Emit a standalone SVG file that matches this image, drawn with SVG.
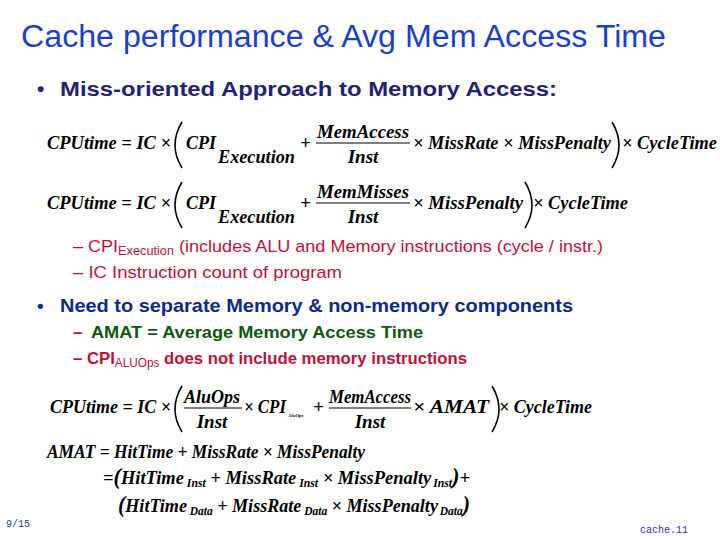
<svg xmlns="http://www.w3.org/2000/svg" width="720" height="540" viewBox="0 0 720 540">
<style>
.t{font-family:"Liberation Sans",Arial,sans-serif}
.m{font-family:"Liberation Serif","Times New Roman",serif;font-weight:bold;font-style:italic;fill:#000}
.p{fill:none;stroke:#000;stroke-width:1.6}
.r{fill:#c0103a}
.f{font-family:"Liberation Mono",monospace;font-size:10px;fill:#1a3a9c}
</style>
<rect width="720" height="540" fill="#fff"/>
<text class="t" x="21" y="47" font-size="31" fill="#1a3fcc" textLength="645" lengthAdjust="spacingAndGlyphs">Cache performance &amp; Avg Mem Access Time</text>
<text class="t" x="37" y="96" font-size="21" font-weight="bold" fill="#1f2277">•</text>
<text class="t" x="60" y="96" font-size="21" font-weight="bold" fill="#1f2277" textLength="497" lengthAdjust="spacingAndGlyphs">Miss-oriented Approach to Memory Access:</text>

<g id="eq1" font-size="19">
<text class="m" x="47" y="149" textLength="124" lengthAdjust="spacingAndGlyphs">CPUtime = IC ×</text>
<path class="p" d="M182,122 Q168,145 182,168"/>
<text class="m" x="186" y="149" textLength="30" lengthAdjust="spacingAndGlyphs">CPI</text>
<text class="m" x="218" y="163" textLength="77" lengthAdjust="spacingAndGlyphs">Execution</text>
<text class="m" x="300" y="149">+</text>
<text class="m" x="363" y="138" text-anchor="middle" textLength="92" lengthAdjust="spacingAndGlyphs">MemAccess</text>
<line x1="316" y1="143" x2="410" y2="143" stroke="#000"/>
<text class="m" x="363" y="163" text-anchor="middle">Inst</text>
<text class="m" x="413" y="149" textLength="198" lengthAdjust="spacingAndGlyphs">× MissRate × MissPenalty</text>
<path class="p" d="M612,122 Q626,145 612,168"/>
<text class="m" x="622" y="149" textLength="95" lengthAdjust="spacingAndGlyphs">× CycleTime</text>
</g>
<g id="eq2" font-size="19">
<text class="m" x="47" y="209" textLength="124" lengthAdjust="spacingAndGlyphs">CPUtime = IC ×</text>
<path class="p" d="M182,182 Q168,205 182,228"/>
<text class="m" x="186" y="209" textLength="30" lengthAdjust="spacingAndGlyphs">CPI</text>
<text class="m" x="218" y="223" textLength="77" lengthAdjust="spacingAndGlyphs">Execution</text>
<text class="m" x="300" y="209">+</text>
<text class="m" x="363" y="198" text-anchor="middle" textLength="92" lengthAdjust="spacingAndGlyphs">MemMisses</text>
<line x1="316" y1="203" x2="410" y2="203" stroke="#000"/>
<text class="m" x="363" y="223" text-anchor="middle">Inst</text>
<text class="m" x="413" y="209" textLength="110" lengthAdjust="spacingAndGlyphs">× MissPenalty</text>
<path class="p" d="M525,182 Q539,205 525,228"/>
<text class="m" x="533" y="209" textLength="95" lengthAdjust="spacingAndGlyphs">× CycleTime</text>
</g>

<text class="t r" x="73" y="252" font-size="17" textLength="530" lengthAdjust="spacingAndGlyphs">– CPI<tspan font-size="12" dy="3">Execution</tspan><tspan dy="-3"> (includes ALU and Memory instructions (cycle / instr.)</tspan></text>
<text class="t r" x="73" y="278" font-size="17" textLength="269" lengthAdjust="spacingAndGlyphs">– IC  Instruction count of program</text>
<text class="t" x="37" y="312" font-size="19" font-weight="bold" fill="#0a2a90">•</text>
<text class="t" x="60" y="312" font-size="19" font-weight="bold" fill="#0a2a90" textLength="513" lengthAdjust="spacingAndGlyphs">Need to separate Memory &amp; non-memory components</text>
<text class="t" x="73" y="338" font-size="17" font-weight="bold" fill="#c0103a">–</text>
<text class="t" x="91" y="338" font-size="17" font-weight="bold" fill="#0a5a0a" textLength="332" lengthAdjust="spacingAndGlyphs">AMAT = Average Memory Access Time</text>
<text class="t" x="73" y="364" font-size="17" font-weight="bold" fill="#c0103a" textLength="394" lengthAdjust="spacingAndGlyphs">– CPI<tspan font-size="12" font-weight="normal" dy="3">ALUOps</tspan><tspan dy="-3"> does not include memory instructions</tspan></text>

<g id="eq3" font-size="19">
<text class="m" x="50" y="413" textLength="121" lengthAdjust="spacingAndGlyphs">CPUtime = IC ×</text>
<path class="p" d="M182,386 Q168,409 182,432"/>
<text class="m" x="212" y="403" text-anchor="middle" textLength="56" lengthAdjust="spacingAndGlyphs">AluOps</text>
<line x1="184" y1="408" x2="242" y2="408" stroke="#000"/>
<text class="m" x="212" y="428" text-anchor="middle">Inst</text>
<text class="m" x="244" y="413" textLength="42" lengthAdjust="spacingAndGlyphs">× CPI</text>
<text class="m" x="288" y="417" style="font-size:5px">AluOps</text>
<text class="m" x="313" y="413">+</text>
<text class="m" x="370" y="403" text-anchor="middle" textLength="82" lengthAdjust="spacingAndGlyphs">MemAccess</text>
<line x1="329" y1="408" x2="411" y2="408" stroke="#000"/>
<text class="m" x="370" y="428" text-anchor="middle">Inst</text>
<text class="m" x="413" y="413" textLength="76" lengthAdjust="spacingAndGlyphs">× AMAT</text>
<path class="p" d="M492,386 Q506,409 492,432"/>
<text class="m" x="499" y="413" textLength="93" lengthAdjust="spacingAndGlyphs">× CycleTime</text>
</g>
<g id="eq4" font-size="19">
<text class="m" x="47" y="458" textLength="318" lengthAdjust="spacingAndGlyphs">AMAT = HitTime + MissRate × MissPenalty</text>
<text class="m" x="103" y="484" textLength="367" lengthAdjust="spacingAndGlyphs">=<tspan font-size="23">(</tspan>HitTime<tspan font-size="12" dy="3" dx="3">Inst</tspan><tspan dy="-3"> + MissRate</tspan><tspan font-size="12" dy="3" dx="3">Inst</tspan><tspan dy="-3"> × MissPenalty</tspan><tspan font-size="12" dy="3" dx="2">Inst</tspan><tspan dy="-3" font-size="23">)</tspan>+</text>
<text class="m" x="118" y="512" textLength="352" lengthAdjust="spacingAndGlyphs"><tspan font-size="23">(</tspan>HitTime<tspan font-size="12" dy="3" dx="3">Data</tspan><tspan dy="-3"> + MissRate</tspan><tspan font-size="12" dy="3" dx="3">Data</tspan><tspan dy="-3"> × MissPenalty</tspan><tspan font-size="12" dy="3" dx="2">Data</tspan><tspan dy="-3" font-size="23">)</tspan></text>
</g>

<text class="f" x="6" y="527">9/15</text>
<text class="f" x="640" y="533">cache.11</text>
</svg>
